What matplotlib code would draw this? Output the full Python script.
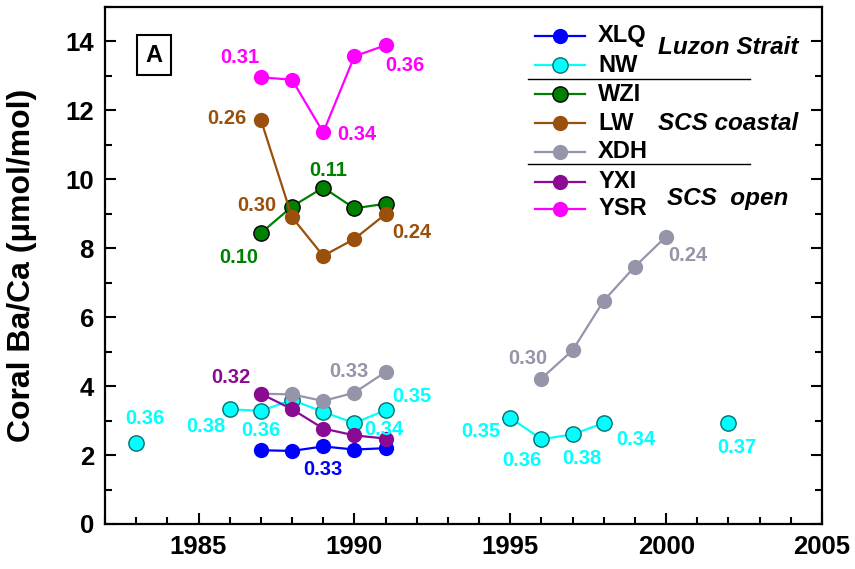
import numpy as np
import matplotlib
matplotlib.use("Agg")
from matplotlib import pyplot as plt
from matplotlib.ticker import MultipleLocator

plt.rcParams['font.family'] = ['Liberation Sans', 'DejaVu Sans']
plt.rcParams['font.weight'] = 'bold'

nan = np.nan

# years 1987-1991
early_years = [1987, 1988, 1989, 1990, 1991]
xlq = [2.14, 2.12, 2.25, 2.16, 2.20]
yxi = [3.78, 3.33, 2.77, 2.57, 2.48]
wzi = [8.44, 9.21, 9.76, 9.16, 9.29]
lw = [11.73, 8.90, 7.78, 8.27, 8.99]
ysr = [12.96, 12.89, 11.36, 13.57, 13.89]

# NW, 1983-2002 (nan = no data)
nw_years = list(range(1983, 2003))
nw = [2.35, nan, nan, 3.33, 3.28, 3.60, 3.25, 2.93, 3.30,
      nan, nan, nan, 3.08, 2.46, 2.60, 2.93, nan, nan, nan, 2.93]

# XDH, 1987-2000
xdh_years = list(range(1987, 2001))
xdh = [3.78, 3.76, 3.57, 3.81, 4.41, nan, nan, nan, nan,
       4.22, 5.04, 6.48, 7.47, 8.34]

names = ['XLQ', 'NW', 'WZI', 'LW', 'XDH', 'YXI', 'YSR']
series = {
    'XLQ': (early_years, xlq),
    'NW': (nw_years, nw),
    'WZI': (early_years, wzi),
    'LW': (early_years, lw),
    'XDH': (xdh_years, xdh),
    'YXI': (early_years, yxi),
    'YSR': (early_years, ysr),
}

# correlation labels: (series, year, text, dx, dy) offsets in pixels
labels = [
    ('YSR', 1987, '0.31', -21, 20), ('YSR', 1989, '0.34', 34, -2),
    ('YSR', 1991, '0.36', 19, -20),
    ('LW', 1987, '0.26', -34, 1), ('LW', 1988, '0.30', -35, 12),
    ('LW', 1991, '0.24', 26, -18),
    ('WZI', 1987, '0.10', -22, -24), ('WZI', 1989, '0.11', 5, 17),
    ('YXI', 1987, '0.32', -30, 16),
    ('XDH', 1990, '0.33', -6, 21), ('XDH', 1996, '0.30', -14, 20),
    ('XDH', 2000, '0.24', 22, -19),
    ('NW', 1983, '0.36', 9, 24), ('NW', 1986, '0.38', -24, -17),
    ('NW', 1987, '0.36', 0, -20), ('NW', 1990, '0.34', 29, -6),
    ('NW', 1991, '0.35', 26, 14), ('NW', 1995, '0.35', -29, -14),
    ('NW', 1996, '0.36', -20, -21), ('NW', 1997, '0.38', 9, -24),
    ('NW', 1998, '0.34', 32, -16), ('NW', 2002, '0.37', 8, -24),
    ('XLQ', 1989, '0.33', 0, -23),
]

colors = {'XLQ': '#0000ff', 'NW': '#00ffff', 'WZI': '#008000', 'LW': '#9a4f0a',
          'XDH': '#9595aa', 'YXI': '#8b0a93', 'YSR': '#ff00ff'}
edges = {'NW': '#007070', 'WZI': 'black'}

fig = plt.figure(figsize=(8.55, 5.69), dpi=100)
ax = fig.add_axes([0.1228, 0.0791, 0.8386, 0.9086])

for n in names:
    yrs, vals = series[n]
    ax.plot(yrs, vals, '-o', color=colors[n], lw=1.6, ms=11,
            mec=edges.get(n, colors[n]), mew=1.0 if n in edges else 0)

for n, yr, txt, dx, dy in labels:
    yrs, vals = series[n]
    v = vals[yrs.index(yr)]
    ax.annotate(txt, (yr, v), xytext=(dx, dy), textcoords='offset pixels',
                ha='center', va='center', color=colors[n], fontsize=14.5,
                fontweight='bold')

ax.set_xlim(1982, 2005)
ax.set_ylim(0, 15)
ax.set_xticks([1985, 1990, 1995, 2000, 2005])
ax.set_yticks(range(0, 15, 2))
ax.xaxis.set_minor_locator(MultipleLocator(1))
ax.yaxis.set_minor_locator(MultipleLocator(1))
ax.tick_params(which='both', direction='in', top=False, right=True,
               width=1.5, labelsize=18.5, pad=8)
ax.tick_params(which='major', length=8)
ax.tick_params(which='minor', length=5)
for s in ax.spines.values():
    s.set_linewidth(1.6)
ax.set_ylabel('Coral Ba/Ca (μmol/mol)', fontsize=23, fontweight='bold',
              va='center')
ax.yaxis.set_label_coords(-0.116, 0.50)

ax.text(0.068, 0.907, 'A', transform=ax.transAxes, fontsize=17,
        fontweight='bold', ha='center', va='center',
        bbox=dict(boxstyle='square,pad=0.35', fc='white', ec='black', lw=1.5))

# hand-made legend
rows = [0.9445, 0.8878, 0.8317, 0.7756, 0.7201, 0.6621, 0.6093]
for n, fy in zip(names, rows):
    ax.plot([0.600, 0.669], [fy, fy], color=colors[n], lw=1.6,
            transform=ax.transAxes)
    ax.plot([0.6345], [fy], 'o', color=colors[n], ms=11,
            mec=edges.get(n, colors[n]), mew=1.0 if n in edges else 0,
            transform=ax.transAxes)
    ax.text(0.688, fy, n, transform=ax.transAxes, fontsize=17,
            fontweight='bold', va='center', ha='left')
for fy in [0.8602, 0.6957]:
    ax.plot([0.590, 0.900], [fy, fy], color='black', lw=1.0,
            transform=ax.transAxes)
groups = [('Luzon Strait', 0.921), ('SCS coastal', 0.774), ('SCS  open', 0.629)]
for g, fy in groups:
    ax.text(0.869, fy, g, transform=ax.transAxes, fontsize=17.5,
            fontweight='bold', style='italic', ha='center', va='center')

fig.savefig('out.png', dpi=100)
